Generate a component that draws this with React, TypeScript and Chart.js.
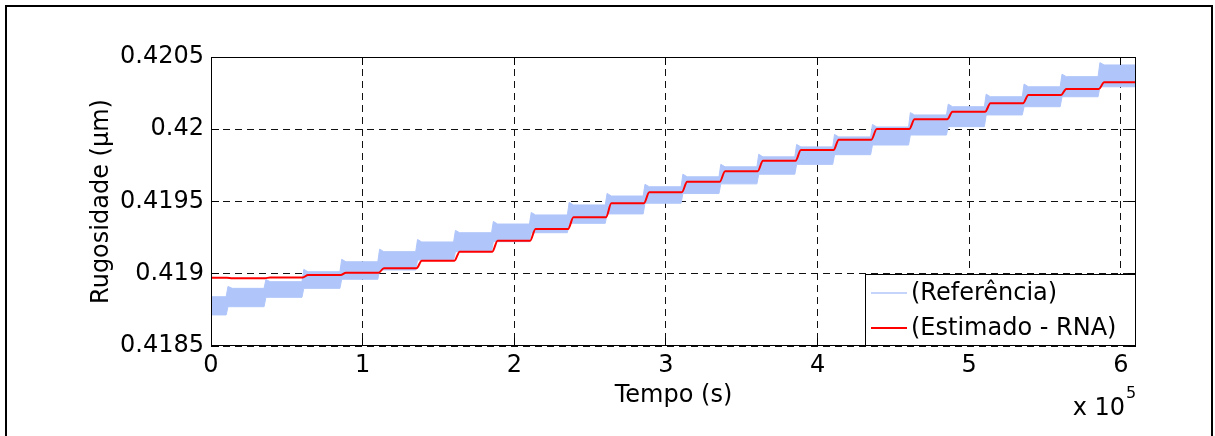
import React, { useEffect, useRef } from 'react';
import { Chart, registerables } from 'chart.js';

Chart.register(...registerables);

const X_MIN = 0;
const X_MAX = 610000;
const Y_MIN = 0.4185;
const Y_MAX = 0.4205;

// start time (s) of each constant segment of the reference signal
const stepStarts = [
  0, 10000, 35000, 60000, 85000, 110000, 135000, 160000, 185000, 210000,
  235000, 260000, 285000, 310000, 335000, 360000, 385000, 410000, 435000,
  460000, 485000, 510000, 535000, 560000, 585000,
];

// reference (oscillating band): upper / lower envelope per segment
const refTop = [
  0.418841, 0.418899, 0.418945, 0.419014, 0.419083, 0.419153, 0.41922, 0.419284,
  0.419344, 0.419407, 0.419476, 0.419538, 0.419602, 0.419671, 0.41974, 0.419809,
  0.419878, 0.419947, 0.420016, 0.420099, 0.420156, 0.420225, 0.420294, 0.420364,
  0.420445,
];
const refBottom = [
  0.418715, 0.418772, 0.418837, 0.418899, 0.418962, 0.419026, 0.419095, 0.419153,
  0.419222, 0.419284, 0.419349, 0.419414, 0.419488, 0.419555, 0.419622, 0.419689,
  0.419757, 0.419824, 0.419891, 0.41996, 0.420018, 0.420099, 0.420156, 0.420225,
  0.420294,
];
// small overshoot at the beginning of each segment
const refPeak = [
  0.418841, 0.418912, 0.41896, 0.41903, 0.4191, 0.41917, 0.419237, 0.4193,
  0.419362, 0.419424, 0.419494, 0.419556, 0.419619, 0.419689, 0.419757, 0.419827,
  0.419895, 0.419964, 0.420033, 0.420115, 0.420174, 0.420243, 0.420313, 0.420381,
  0.420461,
];

// estimated (RNA) level per segment
const estimate = [
  0.418973, 0.418969, 0.418974, 0.418991, 0.419007, 0.419038, 0.41909, 0.419153,
  0.419229, 0.41931, 0.419391, 0.419488, 0.419564, 0.419636, 0.41971, 0.419782,
  0.419856, 0.419928, 0.420002, 0.420069, 0.420121, 0.42018, 0.420237, 0.420279,
  0.420325,
];

const xTickValues = [0, 100000, 200000, 300000, 400000, 500000, 600000];
const xTickLabels = ['0', '1', '2', '3', '4', '5', '6'];
const yTickValues = [0.4185, 0.419, 0.4195, 0.42, 0.4205];
const yTickLabels = ['0.4185', '0.419', '0.4195', '0.42', '0.4205'];

const FONT = "'DejaVu Sans', 'Liberation Sans', Arial, sans-serif";
const BLUE = 'rgb(176,198,250)';
const RED = '#ff0000';
const RISE = 1200;
const PEAK_LEN = 4000;

function buildBand() {
  const upper: { x: number; y: number }[] = [];
  const lower: { x: number; y: number }[] = [];
  stepStarts.forEach((s, i) => {
    const e = i + 1 < stepStarts.length ? stepStarts[i + 1] : X_MAX;
    if (i === 0) {
      upper.push({ x: s, y: refTop[i] });
      lower.push({ x: s, y: refBottom[i] });
    } else {
      upper.push({ x: s + RISE, y: refPeak[i] });
      lower.push({ x: s + RISE, y: refBottom[i] });
      upper.push({ x: s + PEAK_LEN, y: refTop[i] });
      lower.push({ x: s + PEAK_LEN, y: refBottom[i] });
    }
    upper.push({ x: e, y: refTop[i] });
    lower.push({ x: e, y: refBottom[i] });
  });
  return { upper, lower };
}

function buildEstimate() {
  const pts: { x: number; y: number }[] = [{ x: X_MIN, y: estimate[0] }];
  for (let i = 1; i < stepStarts.length; i++) {
    pts.push({ x: stepStarts[i] + 500, y: estimate[i - 1] });
    pts.push({ x: stepStarts[i] + 4000, y: estimate[i] });
  }
  pts.push({ x: X_MAX, y: estimate[estimate.length - 1] });
  return pts;
}

const decor = {
  id: 'decor',
  beforeDraw(chart: any) {
    const ctx = chart.ctx;
    ctx.save();
    ctx.fillStyle = '#fff';
    ctx.fillRect(0, 0, chart.width, chart.height);
    ctx.restore();
  },
  afterDraw(chart: any) {
    const { ctx, chartArea: a } = chart;
    const xs = chart.scales.x;
    const ys = chart.scales.y;
    ctx.save();
    ctx.setLineDash([]);
    ctx.strokeStyle = '#000';
    ctx.lineWidth = 1;
    // tick marks (inward, all four sides)
    const TL = 8;
    ctx.beginPath();
    xTickValues.forEach((v) => {
      const px = Math.floor(xs.getPixelForValue(v)) + 0.5;
      ctx.moveTo(px, a.bottom);
      ctx.lineTo(px, a.bottom - TL);
      ctx.moveTo(px, a.top);
      ctx.lineTo(px, a.top + TL);
    });
    yTickValues.forEach((v) => {
      const py = Math.floor(ys.getPixelForValue(v)) + 0.5;
      ctx.moveTo(a.left, py);
      ctx.lineTo(a.left + TL, py);
      ctx.moveTo(a.right, py);
      ctx.lineTo(a.right - TL, py);
    });
    ctx.stroke();
    // axes box
    ctx.strokeRect(a.left + 0.5, a.top + 0.5, a.right - a.left - 1, a.bottom - a.top - 1);

    // legend
    const lw = 271;
    const lh = 72;
    const lx = a.right - lw;
    const ly = a.bottom - lh;
    ctx.fillStyle = '#fff';
    ctx.fillRect(lx + 0.5, ly + 0.5, lw - 1, lh - 1);
    ctx.strokeStyle = '#000';
    ctx.lineWidth = 1;
    ctx.strokeRect(lx + 0.5, ly + 0.5, lw - 1, lh - 1);
    const ds = chart.data.datasets;
    const items = [
      { label: ds[0].label, color: BLUE, width: 1.5, y: ly + 19 },
      { label: ds[2].label, color: RED, width: 2, y: ly + 54 },
    ];
    ctx.font = `24px ${FONT}`;
    ctx.textBaseline = 'middle';
    ctx.textAlign = 'left';
    items.forEach((it) => {
      ctx.strokeStyle = it.color;
      ctx.lineWidth = it.width;
      ctx.beginPath();
      ctx.moveTo(lx + 6, it.y);
      ctx.lineTo(lx + 42, it.y);
      ctx.stroke();
      ctx.fillStyle = '#000';
      ctx.fillText(it.label, lx + 46, it.y + 1);
    });

    // axis titles
    ctx.fillStyle = '#000';
    ctx.textAlign = 'center';
    ctx.textBaseline = 'alphabetic';
    ctx.font = `24px ${FONT}`;
    ctx.fillText('Tempo (s)', (a.left + a.right) / 2, 402);
    ctx.save();
    ctx.translate(108, (a.top + a.bottom) / 2);
    ctx.rotate(-Math.PI / 2);
    ctx.fillText('Rugosidade (µm)', 0, 0);
    ctx.restore();
    // exponent
    ctx.textAlign = 'right';
    ctx.fillText('x 10', 1125, 415);
    ctx.textAlign = 'left';
    ctx.font = `16px ${FONT}`;
    ctx.fillText('5', 1126, 398);

    // figure frame
    ctx.strokeStyle = '#000';
    ctx.lineWidth = 2;
    ctx.beginPath();
    ctx.moveTo(6, 440);
    ctx.lineTo(6, 6);
    ctx.lineTo(1212, 6);
    ctx.lineTo(1212, 440);
    ctx.stroke();
    ctx.restore();
  },
};

export default function App() {
  const ref = useRef<HTMLCanvasElement>(null);
  useEffect(() => {
    document.body.style.margin = '0';
    const canvas = ref.current;
    if (!canvas) return;
    const band = buildBand();
    const tickFont = { family: FONT, size: 24 };
    const chart = new Chart(canvas, {
      type: 'line',
      data: {
        datasets: [
          {
            label: '(Referência)',
            data: band.upper,
            borderColor: BLUE,
            backgroundColor: BLUE,
            borderWidth: 1,
            pointRadius: 0,
            fill: '+1',
            tension: 0,
            order: 2,
          },
          {
            label: 'refLower',
            data: band.lower,
            borderColor: BLUE,
            backgroundColor: BLUE,
            borderWidth: 1,
            pointRadius: 0,
            fill: false,
            tension: 0,
            order: 3,
          },
          {
            label: '(Estimado - RNA)',
            data: buildEstimate(),
            borderColor: RED,
            backgroundColor: RED,
            borderWidth: 2,
            pointRadius: 0,
            fill: false,
            cubicInterpolationMode: 'monotone',
            order: 1,
          },
        ],
      },
      options: {
        animation: false,
        responsive: false,
        maintainAspectRatio: false,
        events: [],
        layout: { padding: { left: 0, top: 57, right: 79, bottom: 0 } },
        plugins: {
          legend: { display: false },
          tooltip: { enabled: false },
          title: { display: false },
        },
        elements: { point: { radius: 0 } },
        scales: {
          x: {
            type: 'linear',
            min: X_MIN,
            max: X_MAX,
            bounds: 'data',
            afterFit: (s: any) => {
              s.height = 90;
            },
            afterBuildTicks: (s: any) => {
              s.ticks = xTickValues.map((v) => ({ value: v }));
            },
            ticks: {
              callback: (_v: any, i: number) => xTickLabels[i],
              font: tickFont,
              color: '#000',
              padding: 5,
              maxRotation: 0,
              autoSkip: false,
            },
            grid: { color: '#111', lineWidth: 1, drawTicks: false },
            border: { display: false, dash: [7, 5] },
          },
          y: {
            type: 'linear',
            min: Y_MIN,
            max: Y_MAX,
            bounds: 'data',
            afterFit: (s: any) => {
              s.width = 211;
            },
            afterBuildTicks: (s: any) => {
              s.ticks = yTickValues.map((v) => ({ value: v }));
            },
            ticks: {
              callback: (_v: any, i: number) => yTickLabels[i],
              font: tickFont,
              color: '#000',
              padding: 7,
              autoSkip: false,
            },
            grid: { color: '#111', lineWidth: 1, drawTicks: false },
            border: { display: false, dash: [7, 5] },
          },
        },
      },
      plugins: [decor],
    } as any);
    return () => chart.destroy();
  }, []);
  return (
    <div style={{ width: 1215, height: 436 }}>
      <canvas ref={ref} width={1215} height={436} style={{ display: 'block', width: 1215, height: 436 }} />
    </div>
  );
}
